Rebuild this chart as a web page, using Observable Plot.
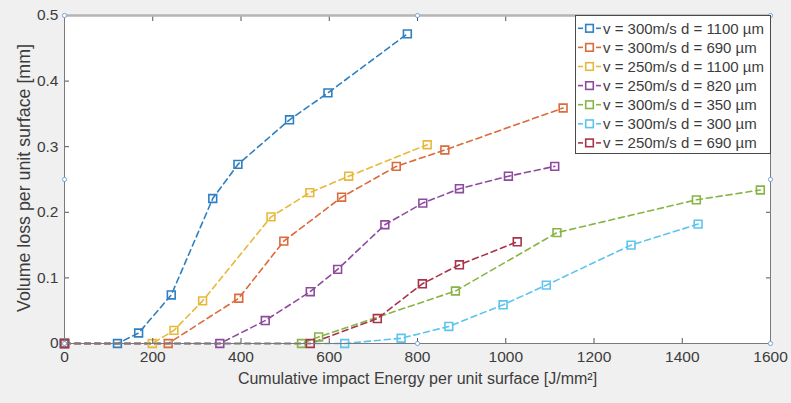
<!DOCTYPE html>
<html>
<head>
<meta charset="utf-8">
<script src="https://cdn.jsdelivr.net/npm/d3@7"></script>
<script src="https://cdn.jsdelivr.net/npm/@observablehq/plot@0.6"></script>
<style>
  html, body { margin: 0; padding: 0; background: #f0f0f0; }
  #chart svg { display: block; font-family: "Liberation Sans", Arial, sans-serif; }
</style>
</head>
<body>
<div id="chart"></div>
<script>
// Series legend labels and line colours
const seriesNames = [
  "v = 300m/s d = 1100 µm",
  "v = 300m/s d = 690 µm",
  "v = 250m/s d = 1100 µm",
  "v = 250m/s d = 820 µm",
  "v = 300m/s d = 350 µm",
  "v = 300m/s d = 300 µm",
  "v = 250m/s d = 690 µm"
];
const seriesColors = ["#2f7fc1", "#dc6a3a", "#e8b83a", "#8e4a9e", "#86b546", "#5cc4ee", "#a8334a"];

// Cumulative impact energy [J/mm²] and volume loss [mm] for each series
const energy300d1100 = [0, 120, 168, 242, 336, 393, 510, 597, 777];
const loss300d1100   = [0, 0, 0.016, 0.074, 0.221, 0.273, 0.341, 0.382, 0.472];

const energy300d690 = [0, 235, 395, 497, 628, 752, 862, 1130];
const loss300d690   = [0, 0, 0.069, 0.156, 0.223, 0.270, 0.295, 0.359];

const energy250d1100 = [0, 199, 248, 313, 468, 556, 644, 822];
const loss250d1100   = [0, 0, 0.020, 0.065, 0.193, 0.230, 0.255, 0.303];

const energy250d820 = [0, 352, 455, 557, 619, 726, 812, 895, 1006, 1111];
const loss250d820   = [0, 0, 0.035, 0.079, 0.113, 0.181, 0.214, 0.236, 0.255, 0.270];

const energy300d350 = [0, 537, 576, 886, 1116, 1432, 1577];
const loss300d350   = [0, 0, 0.010, 0.080, 0.169, 0.219, 0.234];

const energy300d300 = [0, 635, 763, 871, 994, 1092, 1284, 1436];
const loss300d300   = [0, 0, 0.008, 0.026, 0.059, 0.089, 0.150, 0.182];

const energy250d690 = [0, 557, 709, 811, 895, 1026];
const loss250d690   = [0, 0, 0.038, 0.091, 0.120, 0.155];

// Axis ticks
const xTicks = [0, 200, 400, 600, 800, 1000, 1200, 1400, 1600];
const yTicks = [0, 0.1, 0.2, 0.3, 0.4, 0.5];
const yTickLabels = ["0", "0.1", "0.2", "0.3", "0.4", "0.5"];

// Axes selection handles (corners and edge midpoints)
const handleX = [0, 0, 0, 800, 1600, 1600, 1600, 800];
const handleY = [0, 0.25, 0.5, 0.5, 0.5, 0.25, 0, 0];

const xLabel = "Cumulative impact Energy per unit surface [J/mm²]";
const yLabel = "Volume loss per unit surface [mm]";

const seriesData = [
  [energy300d1100, loss300d1100],
  [energy300d690, loss300d690],
  [energy250d1100, loss250d1100],
  [energy250d820, loss250d820],
  [energy300d350, loss300d350],
  [energy300d300, loss300d300],
  [energy250d690, loss250d690]
];
const rows = seriesData.flatMap(([es, vs], i) =>
  es.map((e, j) => ({series: seriesNames[i], e, v: vs[j]}))
);
const handles = handleX.map((x, i) => ({x, y: handleY[i]}));
const yMax = yTicks[yTicks.length - 1];

const axisColor = "#555";
const textColor = "#3c3c3c";
const fontFamily = "'Liberation Sans', Arial, sans-serif";

const plot = Plot.plot({
  width: 791,
  height: 403,
  marginLeft: 64,
  marginRight: 21,
  marginTop: 15,
  marginBottom: 60,
  style: {background: "#f0f0f0", fontSize: "15px", color: textColor, fontFamily},
  x: {domain: [0, 1600]},
  y: {domain: [0, 0.5]},
  color: {domain: seriesNames, range: seriesColors},
  marks: [
    Plot.frame({fill: "white"}),
    Plot.line(rows, {x: "e", y: "v", z: "series", stroke: "series", strokeWidth: 1.6, strokeDasharray: "6,4"}),
    Plot.dot(rows, {x: "e", y: "v", stroke: "series", symbol: "square", r: 4.4, strokeWidth: 1.6, fill: "none"}),
    // inward tick marks on all four sides
    Plot.axisX(xTicks, {anchor: "bottom", tickSize: -5, tickFormat: () => "", stroke: axisColor, label: null}),
    Plot.axisX(xTicks, {anchor: "top", tickSize: -5, tickFormat: () => "", stroke: axisColor, label: null}),
    Plot.axisY(yTicks, {anchor: "left", tickSize: -5, tickFormat: () => "", stroke: axisColor, label: null}),
    Plot.axisY(yTicks, {anchor: "right", tickSize: -5, tickFormat: () => "", stroke: axisColor, label: null}),
    // tick labels
    Plot.axisX(xTicks, {anchor: "bottom", tickSize: 0, tickPadding: 7, tickFormat: d => String(d), label: null, fill: textColor, fontSize: 15.5}),
    Plot.axisY(yTicks, {anchor: "left", tickSize: 0, tickPadding: 6, tickFormat: (d, i) => yTickLabels[i], label: null, fill: textColor, fontSize: 15.5}),
    Plot.frame({stroke: "#7a7a7a", strokeWidth: 1}),
    // heavier, lighter top edge of the axes box
    Plot.ruleY([yMax], {stroke: "#b4b4b4", strokeWidth: 2.5}),
    Plot.dot(handles, {x: "x", y: "y", r: 2.1, stroke: "#7aa6d6", fill: "white", strokeWidth: 1}),
    // axis titles
    Plot.text([xLabel], {frameAnchor: "bottom", dy: 40, text: d => d, fill: textColor, fontSize: 16, textAnchor: "middle"}),
    Plot.text([yLabel], {frameAnchor: "left", dx: -40, dy: -1.5, rotate: -90, text: d => d, fill: textColor, fontSize: 17.8, textAnchor: "middle"})
  ]
});

document.getElementById("chart").appendChild(plot);

// Legend box in the upper right corner of the axes
const svg = d3.select(plot);
const lx = 575, ly = 15, lw = 196, lh = 138, rowH = 19.1;
const legend = svg.append("g")
  .attr("font-family", fontFamily)
  .attr("font-size", 15)
  .attr("text-anchor", "start");
legend.append("rect")
  .attr("x", lx + 0.5).attr("y", ly + 0.5).attr("width", lw - 1).attr("height", lh)
  .attr("fill", "white").attr("stroke", "#4a4a4a").attr("stroke-width", 1);
seriesNames.forEach((name, i) => {
  const cy = ly + 13.3 + i * rowH;
  const g = legend.append("g").attr("stroke", seriesColors[i]).attr("stroke-width", 1.6);
  g.append("line").attr("x1", lx + 3).attr("x2", lx + 8).attr("y1", cy).attr("y2", cy);
  g.append("line").attr("x1", lx + 21).attr("x2", lx + 26).attr("y1", cy).attr("y2", cy);
  g.append("rect")
    .attr("x", lx + 10.7).attr("y", cy - 3.8).attr("width", 7.6).attr("height", 7.6)
    .attr("fill", "white");
  legend.append("text")
    .attr("x", lx + 28).attr("y", cy).attr("dy", "0.35em")
    .attr("fill", textColor).text(name);
});
</script>
</body>
</html>
